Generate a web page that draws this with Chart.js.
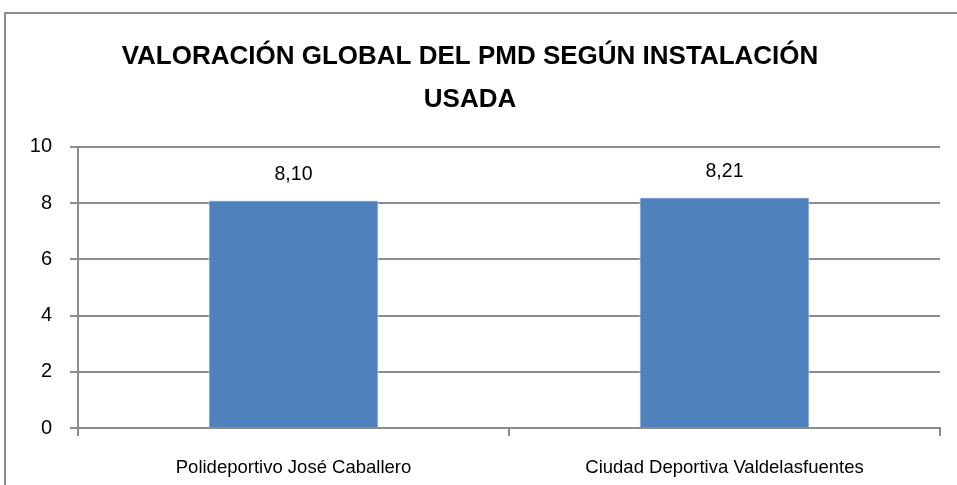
<!DOCTYPE html>
<html>
<head>
<meta charset="utf-8">
<script src="https://cdn.jsdelivr.net/npm/chart.js@4/dist/chart.umd.min.js"></script>
<style>
html, body { margin: 0; padding: 0; background: #fff; }
#wrap { position: relative; width: 957px; height: 485px; overflow: hidden; }
#frame { position: absolute; left: 4px; top: 12px; width: 980px; height: 500px; border: 2px solid #8c8c8c; box-sizing: border-box; }
#c { position: absolute; left: 0; top: 0; }
</style>
</head>
<body>
<div id="wrap">
  <div id="frame"></div>
  <canvas id="c" width="957" height="485"></canvas>
</div>
<script>
var categories = ['Polideportivo José Caballero', 'Ciudad Deportiva Valdelasfuentes'];
var scores = [8.10, 8.21];
var yTicks = [0, 2, 4, 6, 8, 10];
var titleLines = ['VALORACIÓN GLOBAL DEL PMD SEGÚN INSTALACIÓN', 'USADA'];

/* value labels above bars, comma decimal */
var barLabels = {
    id: 'barLabels',
    afterDatasetsDraw: function(chart) {
        var ctx = chart.ctx;
        var meta = chart.getDatasetMeta(0);
        ctx.save();
        ctx.font = '19.5px "Liberation Sans", sans-serif';
        ctx.fillStyle = '#000';
        ctx.textAlign = 'center';
        ctx.textBaseline = 'middle';
        meta.data.forEach(function(bar, i) {
            ctx.fillText(scores[i].toFixed(2).replace('.', ','), bar.x, bar.y - 26);
        });
        ctx.restore();
    }
};

new Chart(document.getElementById('c'), {
    type: 'bar',
    data: {
        labels: categories,
        datasets: [{
            data: scores,
            backgroundColor: '#4f81bd',
            borderColor: '#dfe6ef',
            borderWidth: 1,
            categoryPercentage: 1,
            barPercentage: 0.395
        }]
    },
    options: {
        responsive: false,
        animation: false,
        layout: { padding: { left: 0, right: 17, top: 0, bottom: 0 } },
        plugins: {
            legend: { display: false },
            tooltip: { enabled: false },
            title: {
                display: true,
                text: titleLines,
                color: '#000',
                font: { family: '"Liberation Sans", sans-serif', size: 26, weight: 'bold', lineHeight: 1.65 },
                padding: { top: 35, bottom: 26 }
            }
        },
        scales: {
            y: {
                min: 0, max: 10,
                afterFit: function(s) { s.width = 78; },
                afterBuildTicks: function(s) { s.ticks = yTicks.map(function(v) { return { value: v }; }); },
                ticks: { color: '#000', padding: 18, font: { family: '"Liberation Sans", sans-serif', size: 20 } },
                grid: { color: '#8c8c8c', lineWidth: 2, tickLength: 8 },
                border: { color: '#8c8c8c', width: 2 }
            },
            x: {
                offset: true,
                afterFit: function(s) { s.height = 57; },
                ticks: { color: '#000', padding: 21, font: { family: '"Liberation Sans", sans-serif', size: 18.5 } },
                grid: { offset: true, drawOnChartArea: false, color: '#8c8c8c', lineWidth: 2, tickLength: 8 },
                border: { color: '#8c8c8c', width: 2 }
            }
        }
    },
    plugins: [barLabels]
});
</script>
</body>
</html>
